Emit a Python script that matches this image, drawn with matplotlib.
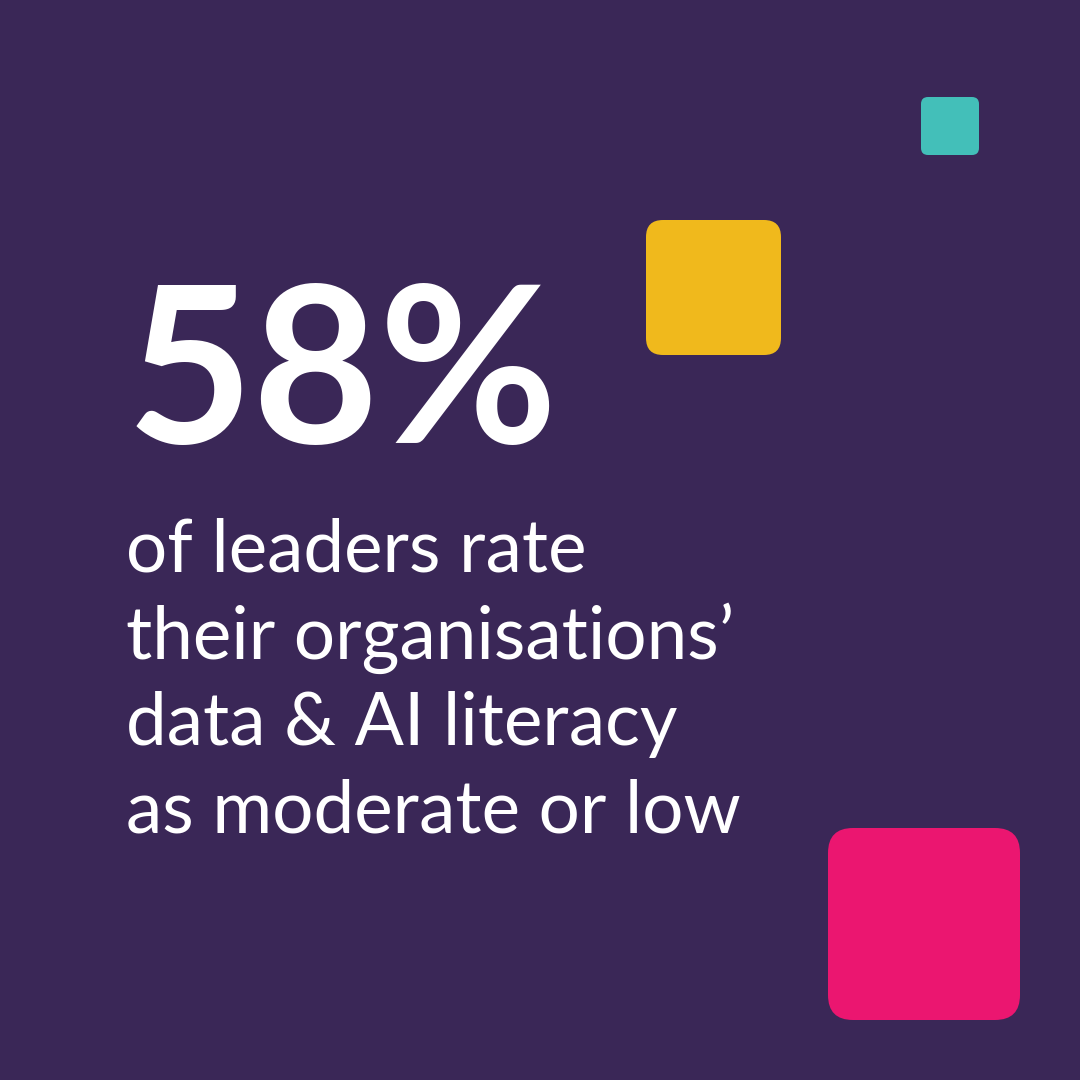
import matplotlib.pyplot as plt
from matplotlib.patches import FancyBboxPatch

# colours and text
bg_color = '#3A2757'
big_number = '58%'
body_lines = ['of leaders rate',
              "their organisations\u2019",
              'data & AI literacy',
              'as moderate or low']

# decorative squares: left, top, size, corner radius, colour
square_x = [921, 646, 828]
square_y = [97, 220, 828]
square_size = [58, 135, 192]
square_radius = [7, 17, 25]
square_color = ['#43BFB9', '#F0B91C', '#EB1670']

fig = plt.figure(figsize=(10.8, 10.8), dpi=100)
fig.patch.set_facecolor(bg_color)
ax = fig.add_axes([0, 0, 1, 1])
ax.set_xlim(0, 1080)
ax.set_ylim(1080, 0)
ax.axis('off')

for x, y, s, r, c in zip(square_x, square_y, square_size, square_radius, square_color):
    ax.add_patch(FancyBboxPatch((x + r, y + r), s - 2 * r, s - 2 * r,
                                boxstyle=f'round,pad={r}', fc=c, ec='none'))

# big number
ax.text(127, 443, big_number, color='white', fontsize=157, fontweight='bold',
        family='Lato', va='baseline', ha='left')

# body text
for i, line in enumerate(body_lines):
    ax.text(126, 572 + i * 86.7, line, color='white', fontsize=52.5,
            family='Lato', va='baseline', ha='left')

fig.savefig('out.png', dpi=100, facecolor=bg_color)
